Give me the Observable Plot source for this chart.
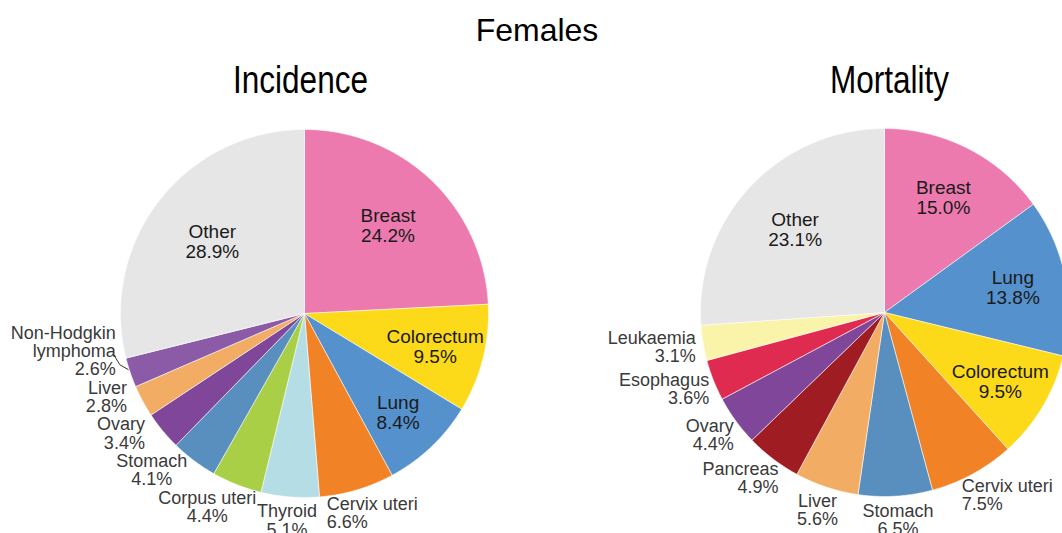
<!DOCTYPE html>
<html><head><meta charset="utf-8">
<script src="https://cdn.jsdelivr.net/npm/d3@7"></script>
<script src="https://cdn.jsdelivr.net/npm/@observablehq/plot@0.6"></script>
<style>
html,body{margin:0;padding:0;background:#fff;}
#title{box-sizing:content-box;height:40px;padding-top:12px;padding-left:12px;width:1050px;text-align:center;
  font-family:'Liberation Sans',Arial,sans-serif;font-size:32px;line-height:normal;color:#000;white-space:nowrap;}
#chart{width:1062px;overflow:hidden;}
</style></head><body>
<div id="title">Females</div>
<div id="chart"></div>
<script>
// ---------- data ----------
const incidenceCategories = ["Breast","Colorectum","Lung","Cervix uteri","Thyroid","Corpus uteri","Stomach","Ovary","Liver","Non-Hodgkin lymphoma","Other"];
const incidenceValues = [24.2, 9.5, 8.4, 6.6, 5.1, 4.4, 4.1, 3.4, 2.8, 2.6, 28.9];
const mortalityCategories = ["Breast","Lung","Colorectum","Cervix uteri","Stomach","Liver","Pancreas","Ovary","Esophagus","Leukaemia","Other"];
const mortalityValues = [15.0, 13.8, 9.5, 7.5, 6.5, 5.6, 4.9, 4.4, 3.6, 3.1, 23.1];
const panelTitles = ["Incidence", "Mortality"];

// ---------- styles ----------
const colorDomain = ["Breast","Colorectum","Lung","Cervix uteri","Thyroid","Corpus uteri","Stomach","Ovary","Liver","Non-Hodgkin lymphoma","Pancreas","Esophagus","Leukaemia","Other"];
const colorRange  = ["#ED7AAE","#FCD919","#5591CD","#F28226","#B4DDE6","#A9CF46","#588FBE","#7F469A","#F2AC64","#8C5BA7","#A01C23","#E02B51","#FAF4AA","#E6E6E6"];

// ---------- layout ----------
const W = 1062, H = 481;
const pies = [
  {title: panelTitles[0], titleX: 300, cx: 304, cy: 261, r: 184, cats: incidenceCategories, vals: incidenceValues},
  {title: panelTitles[1], titleX: 889, cx: 884, cy: 260, r: 184, cats: mortalityCategories, vals: mortalityValues}
];
const PADX = 8, PADY = 5, OUT_FS = 18, OUT_LH = 18.3, IN_FS = 19, IN_LH = 20;

const ctx = document.createElement("canvas").getContext("2d");
function tw(s, size){ ctx.font = `${size}px "Liberation Sans", Arial, sans-serif`; return ctx.measureText(s).width; }
function wrap(name){ return name.length > 14 ? [name.slice(0, name.indexOf(" ")), name.slice(name.indexOf(" ") + 1)] : [name]; }

const polyPts = [], inLines = [], outLines = [], leaders = [];

pies.forEach((p, pi) => {
  let acc = 0;
  const outs = [];
  p.vals.forEach((v, i) => {
    const a0 = acc / 100 * 2 * Math.PI;
    acc += v;
    const a1 = i === p.vals.length - 1 ? 2 * Math.PI : acc / 100 * 2 * Math.PI;
    const key = pi + "-" + i, cat = p.cats[i];
    polyPts.push({key, cat, x: p.cx, y: p.cy});
    const steps = Math.max(2, Math.ceil((a1 - a0) / (Math.PI / 360)));
    for (let k = 0; k <= steps; k++) {
      const a = a0 + (a1 - a0) * k / steps;
      polyPts.push({key, cat, x: p.cx + p.r * Math.sin(a), y: p.cy - p.r * Math.cos(a)});
    }
    polyPts.push({key, cat, x: p.cx, y: p.cy});

    const mid = (a0 + a1) / 2, s = Math.sin(mid), c = Math.cos(mid);
    const pct = v.toFixed(1) + "%";
    if (v >= 8) {
      const R = p.r * (0.78 - v / 200);
      const x = p.cx + R * s, y = p.cy - R * c;
      const lines = [cat, pct];
      lines.forEach((t, k) => inLines.push({x, y: y + (k - (lines.length - 1) / 2) * IN_LH + 0.36 * IN_FS, text: t}));
    } else {
      const lines = wrap(cat).concat([pct]);
      const w = d3.max(lines, t => tw(t, OUT_FS));
      const h = lines.length * OUT_LH;
      const px = p.cx + (p.r + PADX) * s, py = p.cy - (p.r + PADY) * c;
      outs.push({lines, w, h, s, c, bx: px + w / 2 * s, by: py - h / 2 * c, by0: py - h / 2 * c,
                 ex: p.cx + p.r * s, ey: p.cy - p.r * c});
    }
  });
  // collision resolution (bottom to top)
  outs.sort((a, b) => b.by - a.by);
  const placed = [];
  outs.forEach(o => {
    for (const q of placed) {
      const xo = Math.min(o.bx + o.w / 2, q.bx + q.w / 2) - Math.max(o.bx - o.w / 2, q.bx - q.w / 2);
      if (xo > 10 && o.by + o.h / 2 > q.by - q.h / 2 && o.by < q.by + q.h / 2) o.by = q.by - q.h / 2 - o.h / 2;
    }
    // keep the shifted box outside the circle
    if (Math.abs(o.s) > 0.3) {
      const thr = (o.by0 - o.by) > 10 ? p.r + 5 : p.r - 3;
      const cornerY = o.c < 0 ? o.by - o.h / 2 : o.by + o.h / 2;
      const dy = cornerY - p.cy;
      if (Math.abs(dy) < thr) {
        const need = Math.sqrt(thr * thr - dy * dy);
        if (o.s < 0) { const right = o.bx + o.w / 2; if (right > p.cx - need) o.bx -= right - (p.cx - need); }
        else { const left = o.bx - o.w / 2; if (left < p.cx + need) o.bx += (p.cx + need) - left; }
      }
    }
    placed.push(o);
  });
  outs.forEach(o => {
    const anchor = o.s < -0.603 ? "end" : o.s > 0.25 ? "start" : "middle";
    const x = anchor === "end" ? o.bx + o.w / 2 : anchor === "start" ? o.bx - o.w / 2 : o.bx;
    o.lines.forEach((t, k) => outLines.push({x, y: o.by + (k - (o.lines.length - 1) / 2) * OUT_LH + 0.36 * OUT_FS, text: t, anchor}));
    if (o.by0 - o.by > 22) {
      const rx = o.bx + o.w / 2;
      leaders.push({id: o.lines[0], x: rx - 2, y: o.by + 4});
      leaders.push({id: o.lines[0], x: rx + 4, y: o.by + 14});
      leaders.push({id: o.lines[0], x: o.ex - 2, y: o.ey - 3});
    }
  });
});

const titleData = pies.map(p => ({x: p.titleX, y: 40, text: p.title}));

const chart = Plot.plot({
  width: W, height: H,
  margin: 0,
  x: {domain: [0, W], range: [0, W], axis: null},
  y: {domain: [0, H], range: [0, H], axis: null},
  color: {type: "categorical", domain: colorDomain, range: colorRange},
  style: {fontFamily: "'Liberation Sans', Arial, sans-serif", background: "white", overflow: "hidden"},
  marks: [
    Plot.line(polyPts, {x: "x", y: "y", z: "key", fill: "cat", stroke: "white", strokeWidth: 1, strokeOpacity: 0.55, curve: "linear"}),
    Plot.line(leaders, {x: "x", y: "y", z: "id", stroke: "#333", strokeWidth: 1, fill: "none"}),
    Plot.text(inLines, {x: "x", y: "y", text: "text", textAnchor: "middle", lineAnchor: "bottom", fontSize: IN_FS, fill: "#1a1a1a"}),
    Plot.text(outLines.filter(d => d.anchor === "middle"), {x: "x", y: "y", text: "text", textAnchor: "middle", lineAnchor: "bottom", fontSize: OUT_FS, fill: "#3a3a3a"}),
    Plot.text(outLines.filter(d => d.anchor === "end"), {x: "x", y: "y", text: "text", textAnchor: "end", lineAnchor: "bottom", fontSize: OUT_FS, fill: "#3a3a3a"}),
    Plot.text(outLines.filter(d => d.anchor === "start"), {x: "x", y: "y", text: "text", textAnchor: "start", lineAnchor: "bottom", fontSize: OUT_FS, fill: "#3a3a3a"}),
    Plot.text(titleData, {x: "x", y: "y", text: "text", textAnchor: "middle", lineAnchor: "bottom", fontSize: 38,
      fontFamily: "'Liberation Sans', Arial, sans-serif", fill: "#000"})
  ]
});
document.getElementById("chart").appendChild(chart);
// narrow the panel titles (condensed face)
const textGroups = chart.querySelectorAll('g[aria-label="text"]');
textGroups[textGroups.length - 1].querySelectorAll("text").forEach(t => {
  const L = t.getComputedTextLength();
  t.setAttribute("textLength", (L * 0.83).toFixed(1));
  t.setAttribute("lengthAdjust", "spacingAndGlyphs");
});
</script>
</body></html>
